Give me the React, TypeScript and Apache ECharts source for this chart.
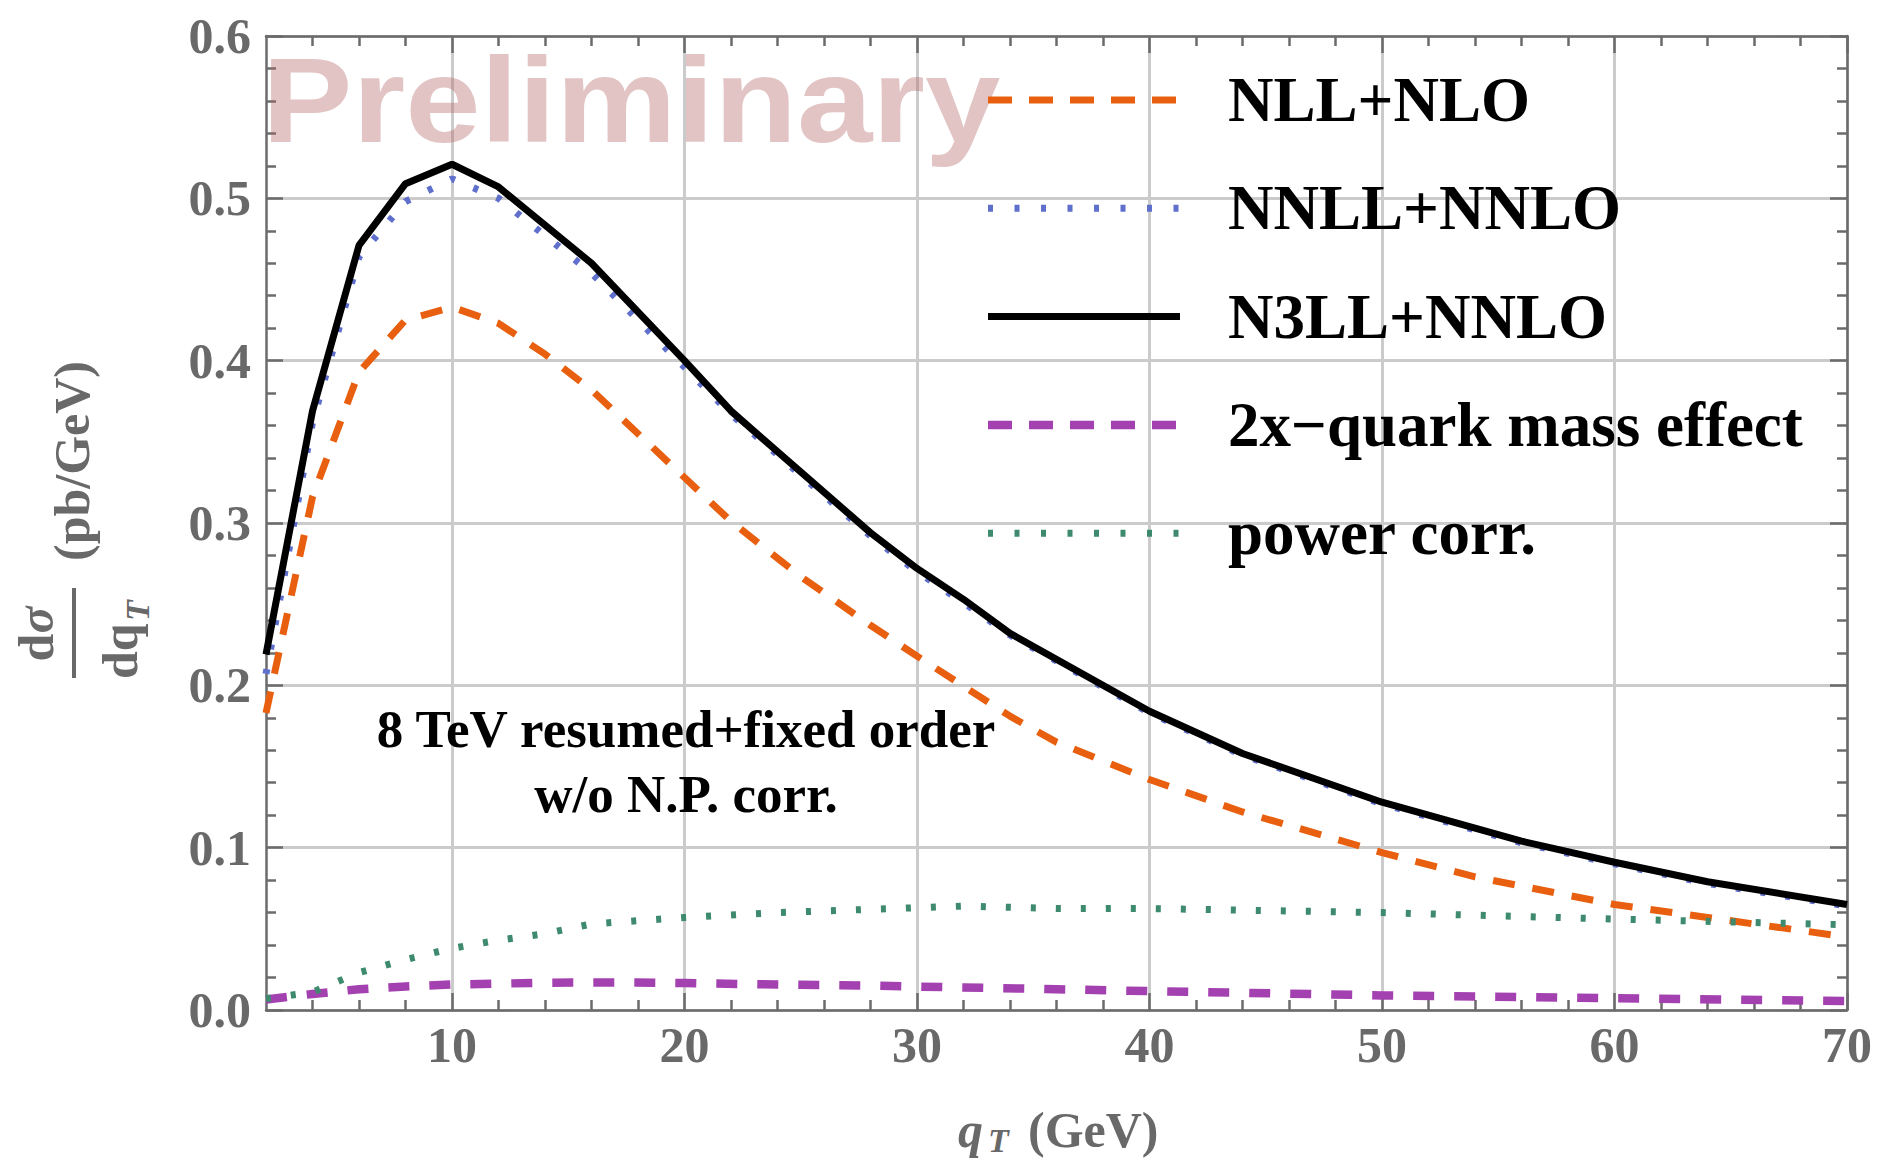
import React, { useEffect, useRef } from "react";
import * as echarts from "echarts";

const W = 1878;
const H = 1162;

// ---------- data ----------
const qNLL = [2, 4, 6, 8, 10, 12, 14, 16, 18, 20, 22, 25, 28, 30, 34, 36, 40, 44, 50, 54, 60, 64, 70];
const vNLL = [0.183, 0.316, 0.393, 0.425, 0.433, 0.423, 0.404, 0.382, 0.355, 0.328, 0.301, 0.267, 0.237, 0.218, 0.181, 0.165, 0.142, 0.122, 0.097, 0.082, 0.065, 0.057, 0.045];

const qNNLL = [2, 4, 6, 8, 10, 12, 16, 20, 22, 28, 30, 32, 34, 40, 44, 50, 56, 60, 64, 70];
const vNNLL = [0.207, 0.362, 0.464, 0.498, 0.512, 0.5, 0.454, 0.396, 0.367, 0.292, 0.27, 0.251, 0.231, 0.183, 0.157, 0.127, 0.103, 0.09, 0.078, 0.064];

const qN3LL = [2, 4, 6, 8, 10, 12, 16, 20, 22, 28, 30, 32, 34, 40, 44, 50, 56, 60, 64, 70];
const vN3LL = [0.219, 0.369, 0.471, 0.509, 0.521, 0.507, 0.46, 0.4, 0.369, 0.294, 0.272, 0.253, 0.232, 0.184, 0.158, 0.128, 0.104, 0.091, 0.079, 0.065];

const qMass = [2, 4, 6, 8, 10, 14, 17, 20, 24, 28, 30, 36, 40, 50, 60, 70];
const vMass = [0.0065, 0.0099, 0.0128, 0.0145, 0.0157, 0.0168, 0.017, 0.0166, 0.0157, 0.015, 0.0144, 0.0128, 0.0116, 0.009, 0.0073, 0.0055];

const qPow = [2, 4, 6, 8, 10, 12, 14, 16, 20, 24, 28, 32, 36, 40, 50, 60, 70];
const vPow = [0.007, 0.011, 0.023, 0.031, 0.038, 0.043, 0.047, 0.053, 0.057, 0.06, 0.062, 0.064, 0.0625, 0.0625, 0.06, 0.056, 0.0525];

const legendNames = ["NLL+NLO", "NNLL+NNLO", "N3LL+NNLO", "2x\u2212quark mass effect", "power corr."];

const xMajorTicks = [10, 20, 30, 40, 50, 60, 70];
const xMinorTicks = [4, 6, 8, 12, 14, 16, 18, 22, 24, 26, 28, 32, 34, 36, 38, 42, 44, 46, 48, 52, 54, 56, 58, 62, 64, 66, 68];
const yMin = 0;
const yMax = 0.6;
const yStep = 0.1;
const xMin = 2;
const xMax = 70;

const annotationLines = ["8 TeV resumed+fixed order", "w/o N.P. corr."];

// ---------- styles ----------
const AXIS = "#6b6b6b";
const GRID = "#cbcbcb";
const SERIF = "'Liberation Serif', 'DejaVu Serif', serif";
const SANS = "'Liberation Sans', Arial, sans-serif";

const seriesStyles = [
  { color: "#e8600f", width: 7, type: [22, 18] as any },
  { color: "#5e6fcc", width: 7, type: [5, 20] as any },
  { color: "#000000", width: 7, type: "solid" as any },
  { color: "#a441b0", width: 8.5, type: [21, 20] as any },
  { color: "#3e8a6e", width: 7, type: [5, 20] as any },
];

const legendDash = [[24, 17], [5, 21.5], null, [24, 17], [5, 21.5]];

function pairs(q: number[], v: number[]) {
  return q.map((x, i) => [x, v[i]]);
}

export default function App() {
  const ref = useRef<HTMLDivElement>(null);

  useEffect(() => {
    document.body.style.margin = "0";
    const chart = echarts.init(ref.current!, null, { renderer: "svg" });

    const datasets = [
      pairs(qNLL, vNLL),
      pairs(qNNLL, vNNLL),
      pairs(qN3LL, vN3LL),
      pairs(qMass, vMass),
      pairs(qPow, vPow),
    ];

    const tickFont = {
      fontFamily: SERIF,
      fontWeight: "bold" as const,
      fontSize: 50,
      color: "#696969",
    };

    const gridL = 266;
    const gridT = 36;
    const gridR = 31;
    const gridB = 152;

    const majorTick = { show: true, inside: true, length: 17, lineStyle: { color: AXIS, width: 2.5 } };
    const minorTickX = { show: true, inside: true, length: 10, lineStyle: { color: AXIS, width: 2.5 } };
    const axisLine = { show: true, onZero: false, lineStyle: { color: AXIS, width: 2.5 } };

    const legendX1 = 988;
    const legendX2 = 1180;
    const legendTextX = 1228;
    const legendY0 = 100;
    const legendDY = 108.3;

    const graphics: any[] = [];

    // watermark
    graphics.push({
      type: "text",
      x: 262,
      y: 100,
      scaleX: 1.13,
      z: 1,
      silent: true,
      style: {
        text: "Preliminary",
        fontFamily: SANS,
        fontWeight: "bold",
        fontSize: 120,
        fill: "rgba(180,100,100,0.38)",
        align: "left",
        textAlign: "left",
        verticalAlign: "middle",
        textVerticalAlign: "middle",
      },
    });

    // legend
    legendNames.forEach((name, i) => {
      const y = legendY0 + i * legendDY;
      const st = seriesStyles[i];
      graphics.push({
        type: "line",
        z: 10,
        shape: { x1: legendX1, y1: y, x2: legendX2, y2: y },
        style: {
          stroke: st.color,
          lineWidth: st.width,
          lineDash: legendDash[i] || undefined,
          lineCap: "butt",
        },
      });
      graphics.push({
        type: "text",
        x: legendTextX,
        y: y,
        z: 10,
        style: {
          text: name,
          fontFamily: SERIF,
          fontWeight: "bold",
          fontSize: 63,
          fill: "#000",
          align: "left",
          textAlign: "left",
          verticalAlign: "middle",
          textVerticalAlign: "middle",
        },
      });
    });

    // annotation
    annotationLines.forEach((t, i) => {
      graphics.push({
        type: "text",
        x: 686,
        y: 729 + i * 65,
        z: 10,
        style: {
          text: t,
          fontFamily: SERIF,
          fontWeight: "bold",
          fontSize: 53,
          fill: "#000",
          align: "center",
          textAlign: "center",
          verticalAlign: "middle",
          textVerticalAlign: "middle",
        },
      });
    });

    // y-axis title (rotated)
    const yTitleBase = {
      fontFamily: SERIF,
      fontWeight: "bold",
      fontSize: 50,
      fill: "#696969",
      verticalAlign: "middle",
      textVerticalAlign: "middle",
    };
    graphics.push({
      type: "text",
      x: 72,
      y: 461,
      rotation: Math.PI / 2,
      style: { ...yTitleBase, text: "(pb/GeV)", align: "center", textAlign: "center" },
    });
    graphics.push({
      type: "line",
      shape: { x1: 74, y1: 588, x2: 74, y2: 678 },
      style: { stroke: "#696969", lineWidth: 4 },
    });
    graphics.push({
      type: "text",
      x: 36,
      y: 634,
      rotation: Math.PI / 2,
      style: {
        ...yTitleBase,
        text: "{b|d}{i|\u03c3}",
        align: "center",
        textAlign: "center",
        rich: {
          b: { fontFamily: SERIF, fontWeight: "bold", fontSize: 50, fill: "#696969" },
          i: { fontFamily: SERIF, fontWeight: "bold", fontStyle: "italic", fontSize: 50, fill: "#696969" },
        },
      },
    });
    graphics.push({
      type: "text",
      x: 120,
      y: 679,
      rotation: Math.PI / 2,
      style: { ...yTitleBase, text: "dq", align: "left", textAlign: "left" },
    });
    graphics.push({
      type: "text",
      x: 137,
      y: 621,
      rotation: Math.PI / 2,
      style: {
        ...yTitleBase,
        text: "T",
        fontSize: 34,
        fontStyle: "italic",
        align: "left",
        textAlign: "left",
      },
    });

    // x-axis title
    graphics.push({
      type: "text",
      x: 958,
      y: 1130,
      style: {
        ...yTitleBase,
        text: "q",
        fontStyle: "italic",
        align: "left",
        textAlign: "left",
      },
    });
    graphics.push({
      type: "text",
      x: 988,
      y: 1140,
      style: {
        ...yTitleBase,
        text: "T",
        fontSize: 34,
        fontStyle: "italic",
        align: "left",
        textAlign: "left",
      },
    });
    graphics.push({
      type: "text",
      x: 1028,
      y: 1130,
      style: { ...yTitleBase, text: "(GeV)", align: "left", textAlign: "left" },
    });

    const option: any = {
      animation: false,
      backgroundColor: "#ffffff",
      grid: [
        { left: gridL, right: gridR, top: gridT, bottom: gridB, containLabel: false, outerBoundsMode: "none" },
        { left: gridL, right: gridR, top: gridT, bottom: gridB, containLabel: false, outerBoundsMode: "none" },
      ],
      xAxis: [
        {
          type: "value",
          gridIndex: 0,
          position: "bottom",
          min: xMin,
          max: xMax,
          axisLine,
          axisTick: { ...majorTick, customValues: xMajorTicks },
          axisLabel: { ...tickFont, margin: 10, customValues: xMajorTicks },
          splitLine: { show: true, lineStyle: { color: GRID, width: 3 } },
        },
        {
          type: "value",
          gridIndex: 0,
          position: "top",
          min: xMin,
          max: xMax,
          axisLine,
          axisTick: { ...majorTick, customValues: xMajorTicks },
          axisLabel: { show: false },
          splitLine: { show: false },
        },
        {
          type: "value",
          gridIndex: 1,
          position: "bottom",
          min: xMin,
          max: xMax,
          axisLine: { show: false, onZero: false },
          axisTick: { ...minorTickX, customValues: xMinorTicks },
          axisLabel: { show: false },
          splitLine: { show: false },
        },
        {
          type: "value",
          gridIndex: 1,
          position: "top",
          min: xMin,
          max: xMax,
          axisLine: { show: false, onZero: false },
          axisTick: { ...minorTickX, customValues: xMinorTicks },
          axisLabel: { show: false },
          splitLine: { show: false },
        },
      ],
      yAxis: [
        {
          type: "value",
          gridIndex: 0,
          position: "left",
          min: yMin,
          max: yMax,
          interval: yStep,
          axisLine,
          axisTick: majorTick,
          minorTick: { show: true, splitNumber: 5, length: 10, lineStyle: { color: AXIS, width: 2.5 } },
          axisLabel: { ...tickFont, margin: 15, formatter: (v: number) => v.toFixed(1) },
          splitLine: { show: true, lineStyle: { color: GRID, width: 3 } },
          minorSplitLine: { show: false },
        },
        {
          type: "value",
          gridIndex: 0,
          position: "right",
          min: yMin,
          max: yMax,
          interval: yStep,
          axisLine,
          axisTick: majorTick,
          minorTick: { show: true, splitNumber: 5, length: 10, lineStyle: { color: AXIS, width: 2.5 } },
          axisLabel: { show: false },
          splitLine: { show: false },
        },
        {
          type: "value",
          gridIndex: 1,
          min: yMin,
          max: yMax,
          show: false,
        },
      ],
      series: datasets.map((d, i) => ({
        type: "line",
        name: legendNames[i],
        xAxisIndex: 0,
        yAxisIndex: 0,
        data: d,
        symbol: "none",
        showSymbol: false,
        smooth: false,
        clip: true,
        silent: true,
        z: 3 + i,
        lineStyle: {
          color: seriesStyles[i].color,
          width: seriesStyles[i].width,
          type: seriesStyles[i].type,
          cap: "butt",
        },
      })),
      graphic: { elements: graphics },
    };

    chart.setOption(option);
    return () => chart.dispose();
  }, []);

  return <div ref={ref} style={{ width: W, height: H }} />;
}
